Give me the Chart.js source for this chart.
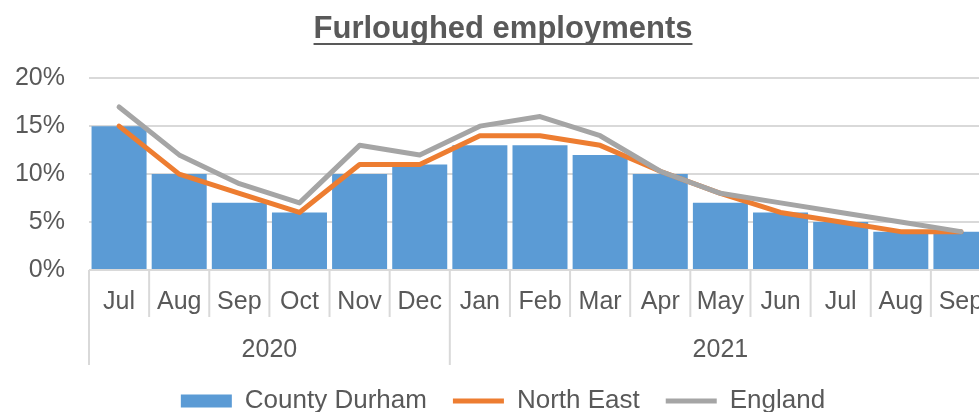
<!DOCTYPE html>
<html>
<head>
<meta charset="utf-8">
<script src="https://cdn.jsdelivr.net/npm/chart.js@4"></script>
<style>
  html, body { margin: 0; padding: 0; background: #fff; overflow: hidden; }
  #wrap { width: 1020px; height: 424px; position: relative; }
</style>
</head>
<body>
<div id="wrap"><canvas id="chart"></canvas></div>
<script>
// 원본 그래프 데이터 (%)
const months = ['Jul', 'Aug', 'Sep', 'Oct', 'Nov', 'Dec', 'Jan', 'Feb', 'Mar', 'Apr', 'May', 'Jun', 'Jul', 'Aug', 'Sep'];
const years = ['2020', '2020', '2020', '2020', '2020', '2020', '2021', '2021', '2021', '2021', '2021', '2021', '2021', '2021', '2021'];
const countyDurham = [15, 10, 7, 6, 10, 11, 13, 13, 12, 10, 7, 6, 5, 4, 4];
const northEast = [15, 10, 8, 6, 11, 11, 14, 14, 13, 10.3, 8, 6, 5, 4, 4];
const england = [17, 12, 9, 7, 13, 12, 15, 16, 14, 10.3, 8, 7, 6, 5, 4];
const yTicks = [0, 5, 10, 15, 20];

const textColor = '#595959';
const gridColor = '#d9d9d9';
const fontFamily = '"Liberation Sans", Arial, sans-serif';

// 연도 구분선과 연도 라벨, 제목 밑줄
const groupPlugin = {
  id: 'groupAxis',
  afterDraw(chart) {
    const ctx = chart.ctx;
    const x = chart.scales.x;
    const bottom = chart.chartArea.bottom;
    const half = (x.getPixelForValue(1) - x.getPixelForValue(0)) / 2;
    ctx.save();
    ctx.strokeStyle = gridColor;
    ctx.lineWidth = 2;
    for (let i = 0; i <= months.length; i++) {
      const px = i < months.length ? x.getPixelForValue(i) - half : x.getPixelForValue(i - 1) + half;
      const isYear = i === 0 || i === months.length || years[i] !== years[i - 1];
      ctx.beginPath();
      ctx.moveTo(px, bottom);
      ctx.lineTo(px, bottom + (isYear ? 95 : 47));
      ctx.stroke();
    }
    // 연도 라벨
    ctx.fillStyle = textColor;
    ctx.font = '25px ' + fontFamily;
    ctx.textAlign = 'center';
    ctx.textBaseline = 'middle';
    let start = 0;
    for (let i = 1; i <= years.length; i++) {
      if (i === years.length || years[i] !== years[start]) {
        const cx = (x.getPixelForValue(start) + x.getPixelForValue(i - 1)) / 2;
        ctx.fillText(years[start], cx, bottom + 80);
        start = i;
      }
    }
    // 제목 밑줄
    const t = chart.titleBlock;
    ctx.font = 'bold 31px ' + fontFamily;
    const w = ctx.measureText(t.options.text).width;
    const cx = (t.left + t.right) / 2;
    ctx.strokeStyle = textColor;
    ctx.lineWidth = 2;
    ctx.beginPath();
    ctx.moveTo(cx - w / 2, 44);
    ctx.lineTo(cx + w / 2, 44);
    ctx.stroke();
    ctx.restore();
  }
};

new Chart(document.getElementById('chart'), {
  data: {
    labels: months,
    datasets: [
      {
        type: 'bar',
        label: 'County Durham',
        data: countyDurham,
        backgroundColor: '#5b9bd5',
        borderWidth: 0,
        pointStyle: 'rect',
        barPercentage: 0.915,
        categoryPercentage: 1,
        order: 3
      },
      {
        type: 'line',
        label: 'North East',
        data: northEast,
        borderColor: '#ed7d31',
        backgroundColor: '#ed7d31',
        borderWidth: 5,
        borderCapStyle: 'round',
        borderJoinStyle: 'round',
        pointRadius: 0,
        pointStyle: 'line',
        tension: 0,
        order: 2
      },
      {
        type: 'line',
        label: 'England',
        data: england,
        borderColor: '#a5a5a5',
        backgroundColor: '#a5a5a5',
        borderWidth: 5,
        borderCapStyle: 'round',
        borderJoinStyle: 'round',
        pointRadius: 0,
        pointStyle: 'line',
        tension: 0,
        order: 1
      }
    ]
  },
  options: {
    responsive: true,
    maintainAspectRatio: false,
    animation: false,
    layout: { padding: { left: 15, right: 29, top: 0, bottom: 0 } },
    plugins: {
      title: {
        display: true,
        text: 'Furloughed employments',
        color: textColor,
        font: { family: fontFamily, size: 31, weight: 'bold' },
        padding: { top: 11, bottom: 30 }
      },
      legend: {
        position: 'bottom',
        labels: {
          color: textColor,
          font: { family: fontFamily, size: 26 },
          usePointStyle: true,
          pointStyleWidth: 51,
          boxHeight: 13,
          padding: 26,
          sort: (a, b) => a.datasetIndex - b.datasetIndex
        }
      },
      tooltip: { enabled: false }
    },
    scales: {
      x: {
        offset: true,
        grid: { display: false, drawTicks: false },
        border: { display: false },
        ticks: {
          color: textColor,
          font: { family: fontFamily, size: 25 },
          padding: 17,
          maxRotation: 0,
          autoSkip: false
        },
        afterFit(scale) { scale.height = 92; }
      },
      y: {
        min: 0,
        max: 20,
        afterBuildTicks(scale) { scale.ticks = yTicks.map(v => ({ value: v })); },
        afterFit(scale) { scale.width = 74; },
        grid: { color: gridColor, lineWidth: 2, drawTicks: false },
        border: { display: false },
        ticks: {
          color: textColor,
          font: { family: fontFamily, size: 25 },
          padding: 24,
          callback: v => v + '%'
        }
      }
    }
  },
  plugins: [groupPlugin]
});
</script>
</body>
</html>
